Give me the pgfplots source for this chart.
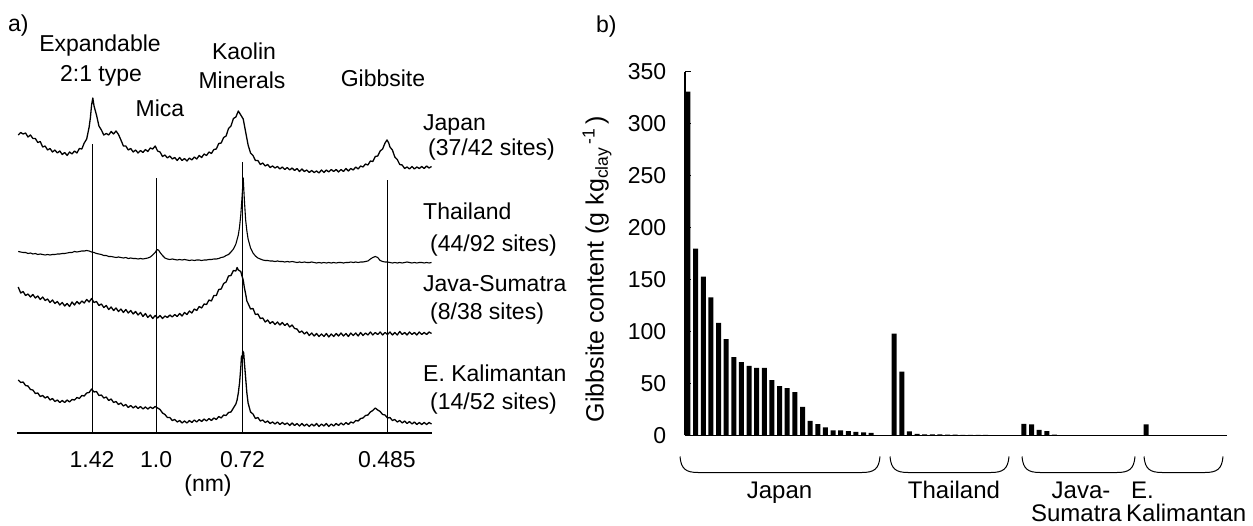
\documentclass[border=0pt]{standalone}
\usepackage{fontspec}
\setmainfont{Liberation Sans}
\usepackage{pgfplots}
\pgfplotsset{compat=1.18}

% Japan XRD trace: 2theta (deg, Cu K-alpha) vs. intensity (arbitrary, offset)
\pgfplotstableread{
t i
3.2 298
3.3 300.5
3.4 299
3.5 300
3.6 296
3.7 298
3.8 294.5
3.9 294.5
4.0 290.5
4.1 291.5
4.2 286
4.3 287
4.4 283
4.5 284.5
4.6 281
4.7 283
4.8 280
4.9 282
5.0 278.5
5.1 280.5
5.2 277.5
5.3 281
5.4 279
5.5 282
5.6 280
5.7 284.5
5.8 284
5.9 290
6.0 294
6.1 306
6.15 315
6.2 328
6.25 335
6.3 327
6.4 318
6.5 307
6.6 303
6.7 298
6.8 299.5
6.9 298
7.0 301.5
7.1 299
7.2 302
7.3 298.5
7.4 293
7.5 287
7.6 287
7.7 283
7.8 284.5
7.9 281
8.0 283
8.1 280
8.2 282.5
8.3 280.5
8.4 283.5
8.5 281.5
8.6 285
8.7 284
8.8 287
8.9 282
9.0 281
9.1 276.5
9.2 278
9.3 275
9.4 277
9.5 274
9.6 275.5
9.7 272.5
9.8 275.5
9.9 272.5
10.0 274.5
10.1 272
10.2 275
10.3 273
10.4 276
10.5 274
10.6 277.5
10.7 275.5
10.8 279
10.9 277.5
11.0 281
11.1 279.5
11.2 283.5
11.3 284
11.4 289.5
11.5 290
11.6 295.5
11.7 297
11.8 304.5
11.9 307
12.0 314.5
12.1 316
12.2 322
12.3 318
12.4 314
12.5 301
12.6 288
12.7 280
12.8 277.5
12.9 272.5
13.0 272.5
13.1 268.5
13.2 270
13.3 267
13.4 268.5
13.5 265.5
13.6 267
13.7 265
13.8 266.5
13.9 264
14.0 266
14.1 263.5
14.2 265.5
14.3 263
14.4 265
14.5 262.5
14.6 264.5
14.7 261.5
14.8 264
14.9 261.5
15.0 263
15.1 260.5
15.2 262.5
15.3 260.5
15.4 262
15.5 260
15.6 263
15.7 260.5
15.8 263
15.9 261
16.0 263.5
16.1 261.5
16.2 263.5
16.3 261
16.4 263.5
16.5 261.5
16.6 264.5
16.7 262
16.8 264.5
16.9 263
17.0 266
17.1 264
17.2 267
17.3 266
17.4 269
17.5 268
17.6 272
17.7 271.5
17.8 276.5
17.9 277
18.0 282
18.1 284
18.2 290
18.28 293
18.35 290
18.4 286
18.5 283
18.6 276
18.7 273.5
18.8 268.5
18.9 268
19.0 264.5
19.1 266
19.2 264
19.3 266.5
19.4 264
19.5 266
19.6 264.5
19.7 266.5
19.8 264.5
19.9 267
20.0 265
20.1 266.5
}\japan

% Thailand XRD trace
\pgfplotstableread{
t i
3.2 181.5
3.3 181
3.4 180.5
3.5 180.5
3.6 179.5
3.7 180
3.8 179
3.9 179.5
4.0 178.5
4.1 179
4.2 178.5
4.3 178
4.4 178.5
4.5 178
4.6 178.5
4.7 178.5
4.8 179
4.9 179
5.0 179.5
5.1 179.5
5.2 180
5.3 180.5
5.4 180.5
5.5 181.5
5.6 181
5.7 181.5
5.8 182
5.9 182
6.0 182.5
6.1 182
6.2 181
6.3 180.5
6.4 179.5
6.5 179
6.6 178.5
6.7 177.5
6.8 177.5
6.9 176.5
7.0 176.5
7.1 176
7.2 175.5
7.3 176
7.4 175.5
7.5 175
7.6 175.5
7.7 174.5
7.8 175
7.9 174.5
8.0 174.5
8.1 174
8.2 174.5
8.3 174
8.4 174.5
8.5 175
8.6 176
8.7 178
8.8 180.5
8.85 182.5
8.9 183.5
8.95 182.5
9.0 180.5
9.1 177.5
9.2 175
9.3 174
9.4 173.5
9.5 174
9.6 173.5
9.7 173
9.8 173.5
9.9 173
10.0 173.5
10.1 173
10.2 172.5
10.3 173
10.4 172.5
10.5 173
10.6 173
10.7 172.5
10.8 173
10.9 173
11.0 173.5
11.1 173.5
11.2 174
11.3 174
11.4 174.5
11.5 175.5
11.6 176
11.7 177.5
11.8 178.5
11.9 181
12.0 184
12.1 189
12.2 198
12.25 206
12.3 218
12.35 235
12.4 255
12.45 232
12.5 213
12.55 202
12.6 194
12.7 185
12.8 180
12.9 177
13.0 175
13.1 174
13.2 173
13.3 172.5
13.4 172.5
13.5 172
13.6 172
13.7 171.5
13.8 172
13.9 171.5
14.0 171.5
14.1 171
14.2 171.5
14.3 171
14.4 171.5
14.5 171
14.6 170.5
14.7 171
14.8 170.5
14.9 171
15.0 170.5
15.1 170.5
15.2 171
15.3 170.5
15.4 170
15.5 170.5
15.6 170
15.7 170.5
15.8 170
15.9 170.5
16.0 170
16.1 170.5
16.2 170
16.3 170.5
16.4 170.5
16.5 170
16.6 170.5
16.7 170.5
16.8 171
16.9 170.5
17.0 171
17.1 170.5
17.2 171
17.3 171
17.4 171.5
17.5 172
17.6 174
17.7 175.5
17.8 176.5
17.9 175.5
18.0 172.5
18.1 171.5
18.2 171
18.3 171
18.4 170.5
18.5 170
18.6 170.5
18.7 170
18.8 170.5
18.9 170
19.0 170.5
19.1 171
19.2 170.5
19.3 170
19.4 170.5
19.5 170
19.6 170.5
19.7 170.5
19.8 170
19.9 170.5
20.0 170
20.1 170.5
}\thailand

% Java-Sumatra XRD trace
\pgfplotstableread{
t i
3.2 146
3.3 140
3.4 141.5
3.5 137.5
3.6 139
3.7 136
3.8 138.5
3.9 135
4.0 137
4.1 133.5
4.2 136
4.3 132.5
4.4 134
4.5 130.5
4.6 133
4.7 129.5
4.8 131.5
4.9 128
5.0 130.5
5.1 127
5.2 129.5
5.3 126.5
5.4 131
5.5 128
5.6 131.5
5.7 129
5.8 132
5.9 130
6.0 133.5
6.1 131
6.2 134.5
6.3 130.5
6.4 131.5
6.5 127.5
6.6 129
6.7 125.5
6.8 127.5
6.9 123.5
7.0 126
7.1 122.5
7.2 125
7.3 121.5
7.4 124
7.5 120.5
7.6 123.5
7.7 120
7.8 122.5
7.9 119
8.0 121.5
8.1 118
8.2 120.5
8.3 116.5
8.4 119.5
8.5 115.5
8.6 118
8.7 114.5
8.8 117.5
8.9 115
9.0 117.5
9.1 114.5
9.2 117
9.3 115.5
9.4 118
9.5 116
9.6 118.5
9.7 116.5
9.8 119.5
9.9 117
10.0 120.5
10.1 118.5
10.2 122
10.3 120
10.4 124
10.5 122.5
10.6 126.5
10.7 125
10.8 129
10.9 128.5
11.0 133
11.1 132
11.2 137.5
11.3 137.5
11.4 143.5
11.5 144
11.6 149.5
11.7 151
11.8 157
11.9 157.5
12.0 162.5
12.1 162
12.15 165.5
12.2 163
12.3 161.5
12.35 157
12.4 153
12.45 145
12.5 139
12.55 132
12.6 129.5
12.7 124
12.8 124.5
12.9 118.5
13.0 119
13.1 114.5
13.2 115
13.3 111
13.4 113
13.5 109.5
13.6 111.5
13.7 108.5
13.8 111
13.9 108
14.0 110.5
14.1 107.5
14.2 109.5
14.3 106
14.4 108
14.5 104.5
14.6 104
14.7 100.5
14.8 102
14.9 99
15.0 101
15.1 97.5
15.2 100
15.3 97
15.4 99.5
15.5 96.5
15.6 99
15.7 96.5
15.8 99.5
15.9 96
16.0 99
16.1 96.5
16.2 99.5
16.3 97
16.4 100
16.5 97
16.6 99.5
16.7 96.5
16.8 100
16.9 97.5
17.0 100
17.1 97
17.2 100.5
17.3 97.5
17.4 100
17.5 98
17.6 101
17.7 98
17.8 100.5
17.9 98.5
18.0 101
18.1 98
18.2 100.5
18.3 98.5
18.4 101
18.5 98
18.6 100.5
18.7 98
18.8 101.5
18.9 98.5
19.0 100.5
19.1 98
19.2 101
19.3 98.5
19.4 100.5
19.5 98
19.6 101
19.7 98.5
19.8 100.5
19.9 98.5
20.0 101
20.1 99.5
}\javasumatra

% E. Kalimantan XRD trace
\pgfplotstableread{
t i
3.2 53
3.3 50.5
3.4 51
3.5 47.5
3.6 47
3.7 43.5
3.8 43
3.9 39.5
4.0 40
4.1 36.5
4.2 37.5
4.3 35
4.4 36.5
4.5 33
4.6 34.5
4.7 31.5
4.8 33
4.9 30.5
5.0 32.5
5.1 30.5
5.2 33
5.3 31
5.4 33.5
5.5 33
5.6 35.5
5.7 34.5
5.8 37.5
5.9 37
6.0 40
6.1 40.5
6.2 44
6.3 41
6.4 41.5
6.5 37.5
6.6 38
6.7 35
6.8 36
6.9 32.5
7.0 34
7.1 30.5
7.2 31.5
7.3 28.5
7.4 30
7.5 27
7.6 28.5
7.7 25.5
7.8 27.5
7.9 25
8.0 27
8.1 24.5
8.2 26.5
8.3 24
8.4 26
8.5 24
8.6 26
8.7 24.5
8.8 26.5
8.9 25
9.0 23.5
9.1 20
9.2 18.5
9.3 15.5
9.4 15.5
9.5 12.5
9.6 13.5
9.7 11
9.8 12.5
9.9 10
10.0 12
10.1 10
10.2 12.5
10.3 10.5
10.4 13
10.5 11
10.6 13.5
10.7 11.5
10.8 14
10.9 12
11.0 14.5
11.1 12.5
11.2 15
11.3 13.5
11.4 16.5
11.5 15
11.6 18
11.7 17.5
11.8 20.5
11.9 21
12.0 25
12.1 29
12.15 33
12.2 40
12.25 50
12.3 65
12.33 77
12.36 72
12.38 82
12.42 80
12.45 70
12.5 55
12.55 40
12.6 30
12.7 21
12.8 19
12.9 14.5
13.0 15.5
13.1 12
13.2 13
13.3 10.5
13.4 12
13.5 9.5
13.6 11
13.7 9
13.8 11
13.9 8.5
14.0 10.5
14.1 8.5
14.2 10
14.3 7.5
14.4 10
14.5 7.5
14.6 9.5
14.7 7
14.8 9.5
14.9 7
15.0 9
15.1 6.5
15.2 9
15.3 7
15.4 9.5
15.5 6.5
15.6 9
15.7 7
15.8 9.5
15.9 6.5
16.0 9
16.1 7
16.2 9.5
16.3 7.5
16.4 10
16.5 8
16.6 10.5
16.7 8.5
16.8 11
16.9 10
17.0 12.5
17.1 12
17.2 14.5
17.3 15
17.4 17.5
17.5 18
17.6 21
17.7 22.5
17.8 25
17.9 23
18.0 21.5
18.1 18.5
18.2 18
18.3 15
18.4 15.5
18.5 12.5
18.6 13.5
18.7 11
18.8 12.5
18.9 10
19.0 12
19.1 9.5
19.2 11.5
19.3 9
19.4 11
19.5 8.5
19.6 10.5
19.7 8.5
19.8 10.5
19.9 8.5
20.0 10.5
20.1 9
}\kalimantan

% Gibbsite content per site (g per kg clay), sites ordered within each region
\pgfplotstableread{
site g
0 331
1 180
2 153
3 133
4 108.5
5 92.8
6 75.5
7 70.7
8 67
9 65
10 65
11 53.4
12 47.5
13 45.5
14 41.8
15 27.5
16 14
17 11
18 7.8
19 5
20 5
21 4.3
22 3.6
23 3
24 2.5
27 98
28 61.5
29 4
30 1.5
31 1
32 1
33 1
34 0.8
35 0.8
36 0.7
37 0.7
38 0.6
39 0.5
44 11.2
45 10.6
46 5.5
47 4.2
48 0.8
60 10.6
}\gibbsite

\begin{document}
\fontsize{23}{27}\selectfont
\begin{tikzpicture}[x=1pt,y=1pt]
\path[use as bounding box] (0,0) rectangle (1253,525);

% ---------- a) XRD patterns ----------
\begin{axis}[
  at={(17pt,92pt)}, anchor=south west,
  scale only axis, width=415pt, height=340pt,
  xmin=3.15, xmax=20.12, ymin=0, ymax=340,
  axis x line*=bottom, axis y line=none,
  x axis line style={-, line width=1.2pt},
  xtick={6.22,8.84,12.37,18.28},
  xticklabels={1.42,1.0,0.72,0.485},
  major tick length=0pt,
  xticklabel style={anchor=base, yshift=-35pt},
  clip=false,
]
\addplot[black, line width=1pt] coordinates {(6.22,0) (6.22,289)};
\addplot[black, line width=1pt] coordinates {(8.84,0) (8.84,255)};
\addplot[black, line width=1pt] coordinates {(12.37,0) (12.37,271)};
\addplot[black, line width=1pt] coordinates {(18.28,0) (18.28,253)};
\addplot[black, line width=1.3pt, line join=round] table[x=t,y=i] {\japan};
\addplot[black, line width=1.1pt, line join=round] table[x=t,y=i] {\thailand};
\addplot[black, line width=1.3pt, line join=round] table[x=t,y=i] {\javasumatra};
\addplot[black, line width=1.3pt, line join=round] table[x=t,y=i] {\kalimantan};
\end{axis}

\begin{scope}[every node/.append style={inner sep=0pt}]
\node[anchor=base west] at (8,493) {a)};
\node[anchor=base] at (100,473) {Expandable};
\node[anchor=base] at (101,443) {2:1 type};
\node[anchor=base] at (160,408) {Mica};
\node[anchor=base] at (244,465) {Kaolin};
\node[anchor=base] at (242,436) {Minerals};
\node[anchor=base] at (383,438) {Gibbsite};
\node[anchor=base west] at (423,394) {Japan};
\node[anchor=base west] at (428,369) {(37/42 sites)};
\node[anchor=base west] at (423,305) {Thailand};
\node[anchor=base west] at (430,273) {(44/92 sites)};
\node[anchor=base west] at (423,233) {Java-Sumatra};
\node[anchor=base west] at (430,205) {(8/38 sites)};
\node[anchor=base west] at (423,143) {E. Kalimantan};
\node[anchor=base west] at (430,115) {(14/52 sites)};
\node[anchor=base] at (208,34) {(nm)};
\end{scope}

% ---------- b) gibbsite content ----------
\begin{axis}[
  at={(685pt,89.5pt)}, anchor=south west,
  scale only axis, width=542pt, height=363.5pt,
  xmin=-0.39, xmax=70.6, ymin=0, ymax=350,
  axis x line*=bottom, axis y line*=left,
  axis line style={-, line width=1.2pt},
  xtick=\empty,
  ytick={0,50,...,350},
  tick align=inside, major tick length=6pt,
  tick style={line width=1pt, black},
  yticklabel style={anchor=east, xshift=-11pt},
  /pgf/number format/assume math mode=true,
  ybar, bar width=5pt,
  clip=false,
]
\addplot[fill=black, draw=none] table[x=site,y=g] {\gibbsite};
\end{axis}

\node[anchor=base west, inner sep=0pt] at (596,492) {b)};
\node[rotate=90, font=\fontsize{25}{29}\selectfont] at (597,256)
  {Gibbsite content (g kg\textsubscript{clay}\textsuperscript{\,-1}\,)};

% region brackets under the bars
\foreach \xa/\xb in {680/880, 890/1009, 1022/1135, 1144/1223}{
  \draw[line width=1pt] (\xa,68.5) .. controls (\xa+1,56) and (\xa+6,52.5) .. (\xa+18,52.5)
    -- (\xb-18,52.5) .. controls (\xb-6,52.5) and (\xb-1,56) .. (\xb,68.5);
}
\begin{scope}[every node/.style={font=\fontsize{24}{28}\selectfont, inner sep=0pt}]
\node[anchor=base] at (779.5,27) {Japan};
\node[anchor=base] at (954,27) {Thailand};
\node[anchor=base] at (1081,27) {Java-};
\node[anchor=base west] at (1131,27) {E.};
\node[anchor=base east] at (1122,4) {Sumatra};
\node[anchor=base west] at (1126,4) {Kalimantan};
\end{scope}
\end{tikzpicture}
\end{document}
